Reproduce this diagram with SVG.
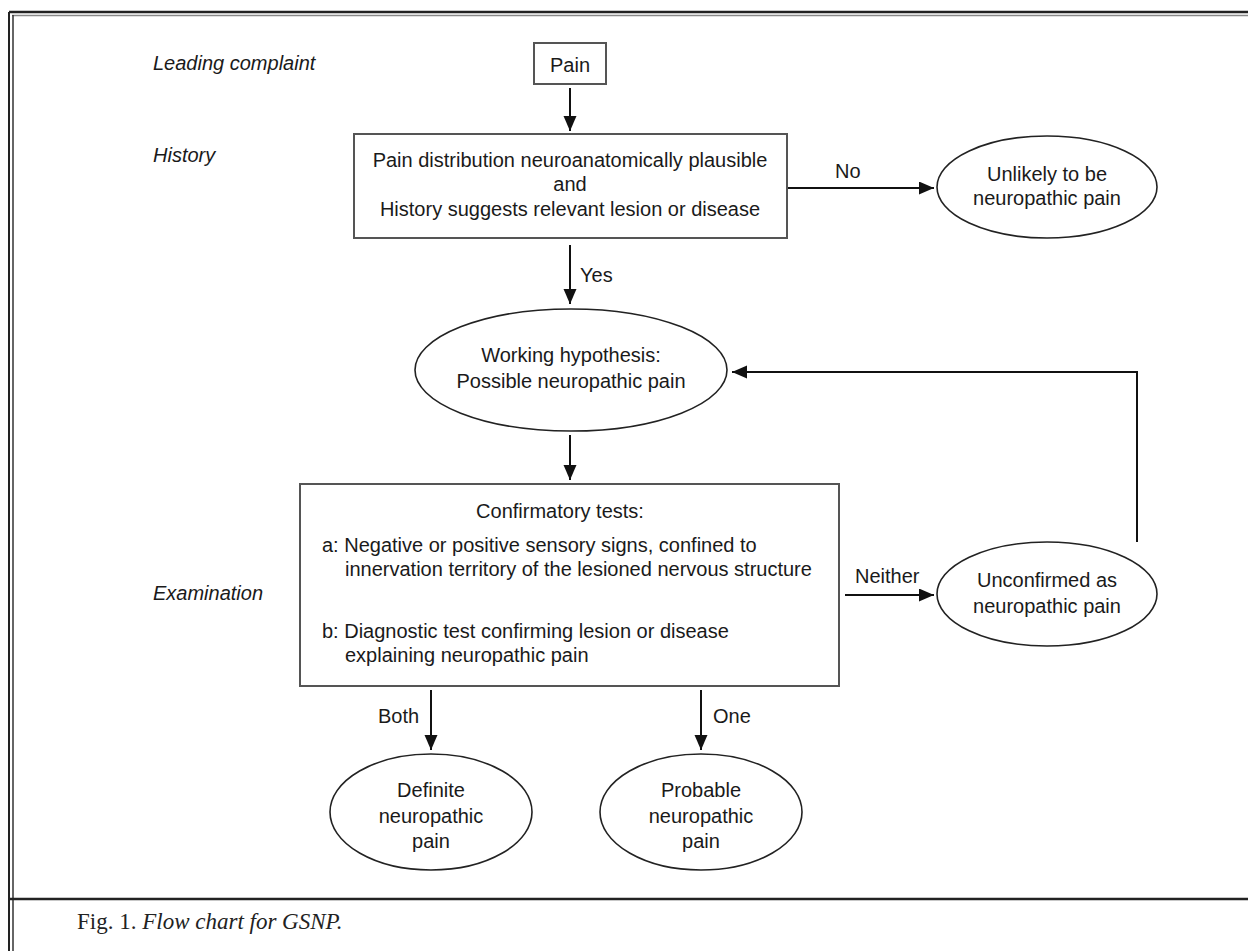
<svg xmlns="http://www.w3.org/2000/svg" width="1248" height="951" viewBox="0 0 1248 951">
<defs>
<style>
.t{font-family:"Liberation Sans",Arial,sans-serif;font-size:20px;fill:#1a1a1a}
.c{text-anchor:middle}
.i{font-style:italic}
.box{fill:#fff;stroke:#555;stroke-width:2}
.ell{fill:#fff;stroke:#222;stroke-width:1.6}
.ar{fill:none;stroke:#111;stroke-width:2;marker-end:url(#ah)}
.cap{font-family:"Liberation Serif","Times New Roman",serif;font-size:23px;fill:#222}
</style>
<marker id="ah" markerUnits="userSpaceOnUse" markerWidth="15" markerHeight="14" refX="15" refY="6.5" orient="auto">
<path d="M0,0 L15,6.5 L0,13 z" fill="#111"/>
</marker>
</defs>
<rect x="0" y="0" width="1248" height="951" fill="#fff"/>
<g id="frame" fill="none">
<line x1="9" y1="12" x2="1248" y2="12" stroke="#222" stroke-width="2.5"/>
<line x1="12" y1="15.5" x2="1248" y2="15.5" stroke="#888" stroke-width="1.5"/>
<line x1="9" y1="12" x2="9" y2="951" stroke="#222" stroke-width="2"/>
<line x1="13" y1="15" x2="13" y2="951" stroke="#333" stroke-width="1.5"/>
<line x1="9" y1="899" x2="1248" y2="899" stroke="#222" stroke-width="2.5"/>
</g>
<g id="labels">
<text class="t i" x="153" y="70">Leading complaint</text>
<text class="t i" x="153" y="162">History</text>
<text class="t i" x="153" y="600">Examination</text>
</g>
<g id="connectors">
<line class="ar" x1="570" y1="88" x2="570" y2="131"/>
<line class="ar" x1="787" y1="188" x2="934" y2="188"/>
<line class="ar" x1="570" y1="245" x2="570" y2="304"/>
<line class="ar" x1="570" y1="435" x2="570" y2="480"/>
<line class="ar" x1="845" y1="595" x2="934" y2="595"/>
<path class="ar" d="M1137,542 V372 H732"/>
<line class="ar" x1="431" y1="690" x2="431" y2="750"/>
<line class="ar" x1="701" y1="690" x2="701" y2="750"/>
<text class="t" x="835" y="178">No</text>
<text class="t" x="580" y="282">Yes</text>
<text class="t" x="855" y="583">Neither</text>
<text class="t" x="378" y="723">Both</text>
<text class="t" x="713" y="723">One</text>
</g>
<g id="pain">
<rect class="box" x="534" y="43" width="72" height="41"/>
<text class="t c" x="570" y="72">Pain</text>
</g>
<g id="history">
<rect class="box" x="354" y="134" width="433" height="104"/>
<text class="t c" x="570" y="167">Pain distribution neuroanatomically plausible</text>
<text class="t c" x="570" y="191">and</text>
<text class="t c" x="570" y="216">History suggests relevant lesion or disease</text>
</g>
<g id="unlikely">
<ellipse class="ell" cx="1047" cy="187" rx="110" ry="51"/>
<text class="t c" x="1047" y="181">Unlikely to be</text>
<text class="t c" x="1047" y="205">neuropathic pain</text>
</g>
<g id="hypothesis">
<ellipse class="ell" cx="571" cy="370" rx="156" ry="61"/>
<text class="t c" x="571" y="362">Working hypothesis:</text>
<text class="t c" x="571" y="388">Possible neuropathic pain</text>
</g>
<g id="confirmatory">
<rect class="box" x="300" y="484" width="539" height="202"/>
<text class="t c" x="560" y="518">Confirmatory tests:</text>
<text class="t" x="322" y="552">a: Negative or positive sensory signs, confined to</text>
<text class="t" x="345" y="576">innervation territory of the lesioned nervous structure</text>
<text class="t" x="322" y="638">b: Diagnostic test confirming lesion or disease</text>
<text class="t" x="345" y="662">explaining neuropathic pain</text>
</g>
<g id="unconfirmed">
<ellipse class="ell" cx="1047" cy="594" rx="110" ry="52"/>
<text class="t c" x="1047" y="587">Unconfirmed as</text>
<text class="t c" x="1047" y="613">neuropathic pain</text>
</g>
<g id="definite">
<ellipse class="ell" cx="431" cy="812" rx="101" ry="58"/>
<text class="t c" x="431" y="797">Definite</text>
<text class="t c" x="431" y="823">neuropathic</text>
<text class="t c" x="431" y="848">pain</text>
</g>
<g id="probable">
<ellipse class="ell" cx="701" cy="812" rx="101" ry="58"/>
<text class="t c" x="701" y="797">Probable</text>
<text class="t c" x="701" y="823">neuropathic</text>
<text class="t c" x="701" y="848">pain</text>
</g>
<g id="caption">
<text class="cap" x="77" y="929">Fig. 1. <tspan font-style="italic">Flow chart for GSNP.</tspan></text>
</g>
</svg>
